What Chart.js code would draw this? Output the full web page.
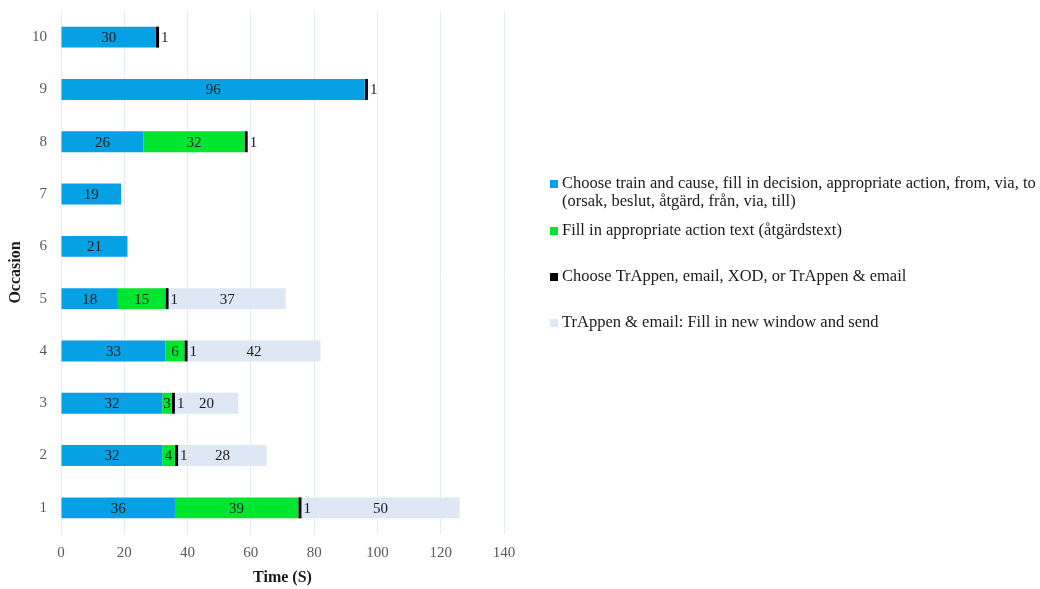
<!DOCTYPE html>
<html>
<head>
<meta charset="utf-8">
<title>Time per occasion</title>
<script src="https://cdn.jsdelivr.net/npm/chart.js@4.4.1/dist/chart.umd.min.js"></script>
<style>
  html, body { margin: 0; padding: 0; background: #ffffff; }
  #wrap { width: 1040px; height: 589px; position: relative; }
</style>
</head>
<body>
<div id="wrap"><canvas id="chart" width="1040" height="589"></canvas></div>
<script>
// Occasions 1..10 (drawn bottom to top)
const occasions = ['1', '2', '3', '4', '5', '6', '7', '8', '9', '10'];

// Seconds spent on each step, per occasion
const chooseTrainAndCause = [36, 32, 32, 33, 18, 21, 19, 26, 96, 30];
const fillActionText      = [39, 4, 3, 6, 15, 0, 0, 32, 0, 0];
const chooseChannel       = [1, 1, 1, 1, 1, 0, 0, 1, 1, 1];
const fillNewWindow       = [50, 28, 20, 42, 37, 0, 0, 0, 0, 0];

// Legend texts (first entry wraps onto two lines)
const seriesNames = [
  ['Choose train and cause, fill in decision, appropriate action, from, via, to', '(orsak, beslut, åtgärd, från, via, till)'],
  ['Fill in appropriate action text (åtgärdstext)'],
  ['Choose TrAppen, email, XOD, or TrAppen & email'],
  ['TrAppen & email: Fill in new window and send']
];

const xTicks = [0, 20, 40, 60, 80, 100, 120, 140];

const seriesColors = ['#06A0E4', '#00E52F', '#000000', '#DDE8F4'];
const serif = "'Liberation Serif', 'Times New Roman', serif";

// Value labels: centred in each segment; the 1-second step is labelled just to its right
const valueLabels = {
  id: 'valueLabels',
  afterDatasetsDraw(chart) {
    const ctx = chart.ctx;
    ctx.save();
    ctx.font = '15px ' + serif;
    ctx.fillStyle = '#1a1a1a';
    ctx.textBaseline = 'middle';
    chart.data.datasets.forEach((ds, di) => {
      const meta = chart.getDatasetMeta(di);
      meta.data.forEach((bar, i) => {
        const v = ds.data[i];
        if (!v) return;
        const p = bar.getProps(['x', 'y', 'base'], true);
        if (di === 2) {
          ctx.textAlign = 'left';
          ctx.fillText(String(v), p.x + 2, p.y + 1);
        } else {
          ctx.textAlign = 'center';
          ctx.fillText(String(v), (p.x + p.base) / 2, p.y + 1);
        }
      });
    });
    ctx.restore();
  }
};

// Legend on the right-hand side
const sideLegend = {
  id: 'sideLegend',
  afterDraw(chart) {
    const ctx = chart.ctx;
    const rows = [184, 231, 277, 323];
    ctx.save();
    ctx.font = '16.5px ' + serif;
    ctx.textBaseline = 'middle';
    ctx.textAlign = 'left';
    seriesNames.forEach((lines, k) => {
      const y = rows[k];
      ctx.fillStyle = seriesColors[k];
      ctx.fillRect(550, y - 4, 8, 8);
      ctx.fillStyle = '#1a1a1a';
      lines.forEach((t, j) => ctx.fillText(t, 562, y + j * 18));
    });
    ctx.restore();
  }
};

const datasets = [chooseTrainAndCause, fillActionText, chooseChannel, fillNewWindow].map((d, k) => ({
  label: seriesNames[k].join(' '),
  data: d,
  backgroundColor: seriesColors[k],
  borderWidth: 0,
  barPercentage: 0.4,
  categoryPercentage: 1.0
}));

new Chart(document.getElementById('chart'), {
  type: 'bar',
  data: { labels: occasions, datasets },
  options: {
    indexAxis: 'y',
    responsive: false,
    animation: false,
    layout: { padding: { top: 11, right: 536, left: 0, bottom: 0 } },
    plugins: { legend: { display: false }, tooltip: { enabled: false } },
    scales: {
      x: {
        stacked: true,
        min: 0,
        max: 140,
        afterBuildTicks(scale) { scale.ticks = xTicks.map(v => ({ value: v })); },
        afterFit(scale) { scale.height = 55; scale.paddingLeft = 0; scale.paddingRight = 0; },
        grid: { color: '#E6ECF3', lineWidth: 1, drawTicks: false },
        border: { display: false },
        ticks: { color: '#595959', font: { family: serif, size: 15 }, padding: 10 },
        title: { display: true, text: 'Time (S)', color: '#1a1a1a', font: { family: serif, size: 16, weight: 'bold' }, padding: { top: 0, bottom: 2 } }
      },
      y: {
        stacked: true,
        reverse: true,
        afterFit(scale) { scale.width = 61; scale.paddingTop = 0; scale.paddingBottom = 0; },
        grid: { display: false, drawTicks: false },
        border: { display: false },
        ticks: { color: '#595959', font: { family: serif, size: 15 }, padding: 14 },
        title: { display: true, text: 'Occasion', color: '#1a1a1a', font: { family: serif, size: 16, weight: 'bold' }, padding: { top: 6, bottom: 0 } }
      }
    }
  },
  plugins: [valueLabels, sideLegend]
});
</script>
</body>
</html>
